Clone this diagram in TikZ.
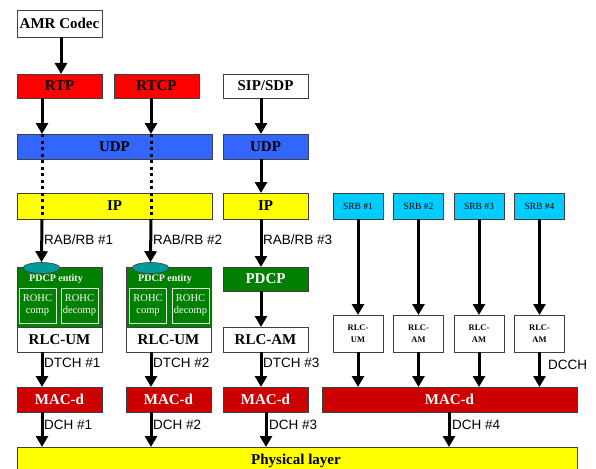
\documentclass[tikz,border=0pt]{standalone}
\usepackage{fontspec}
\setmainfont{Liberation Serif}
\newfontfamily\arialf{Liberation Sans}
\usetikzlibrary{arrows.meta,shapes.geometric}
\definecolor{rtpred}{HTML}{FF0000}
\definecolor{macred}{HTML}{CC0000}
\definecolor{udpblue}{HTML}{3366FF}
\definecolor{ipyellow}{HTML}{FFFF00}
\definecolor{pdgreen}{HTML}{007F00}
\definecolor{ovalteal}{HTML}{009999}
\definecolor{srbcyan}{HTML}{00CCFF}
\definecolor{edgegray}{HTML}{404040}
\tikzset{
  box/.style={draw=edgegray, line width=0.8pt, inner sep=0pt, outer sep=0pt, align=center},
  bigtxt/.style={font=\fontsize{15}{16}\selectfont\bfseries},
  lbl/.style={font=\arialf\fontsize{13.5}{15}\selectfont, inner sep=0pt, anchor=west},
  arr/.style={line width=3pt, -{Triangle[width=12pt,length=11pt]}},
  dots/.style={line width=3pt, dash pattern=on 3pt off 3.5pt},
  whitetxt/.style={text=white},
  smalltxt/.style={font=\fontsize{10.5}{12}\selectfont, text=white},
  tinybold/.style={font=\fontsize{8.5}{11.5}\selectfont\bfseries},
  srbtxt/.style={font=\fontsize{9.5}{11}\selectfont},
}
\begin{document}
\begin{tikzpicture}[x=1pt,y=-1pt]
\clip (0,0) rectangle (596,468);
\fill[white] (0,0) rectangle (596,468);
% column x references
\coordinate (c1) at (42,0);
\coordinate (c2) at (151,0);
\coordinate (c3) at (261,0);
\coordinate (c3b) at (266,0);
\coordinate (c0) at (61,0);
\coordinate (c4) at (449,0);
% top row
\node[box, bigtxt, fill=white, minimum width=85pt, minimum height=27pt] (amr) at (59.5,23.5) {AMR Codec};
\node[box, bigtxt, fill=rtpred, minimum width=85pt, minimum height=24pt] (rtp) at (59.5,86) {RTP};
\node[box, bigtxt, fill=rtpred, minimum width=85pt, minimum height=24pt] (rtcp) at (156.5,86) {RTCP};
\node[box, bigtxt, fill=white, minimum width=85pt, minimum height=24pt] (sip) at (265.5,86) {SIP/SDP};
\node[box, bigtxt, fill=udpblue, minimum width=195pt, minimum height=25pt] (udp1) at (114.5,146.5) {UDP};
\node[box, bigtxt, fill=udpblue, minimum width=85pt, minimum height=25pt] (udp2) at (265.5,146.5) {UDP};
\node[box, bigtxt, fill=ipyellow, minimum width=195pt, minimum height=26pt] (ip1) at (114.5,206) {IP};
\node[box, bigtxt, fill=ipyellow, minimum width=85pt, minimum height=26pt] (ip2) at (265.5,206) {IP};
% SRBs
\node[box, srbtxt, fill=srbcyan, minimum width=50pt, minimum height=26pt] (srb1) at (358,206) {SRB \#1};
\node[box, srbtxt, fill=srbcyan, minimum width=50pt, minimum height=26pt] (srb2) at (418.5,206) {SRB \#2};
\node[box, srbtxt, fill=srbcyan, minimum width=50pt, minimum height=26pt] (srb3) at (479,206) {SRB \#3};
\node[box, srbtxt, fill=srbcyan, minimum width=50pt, minimum height=26pt] (srb4) at (539.5,206) {SRB \#4};
% PDCP entities
\node[box, fill=pdgreen, minimum width=85pt, minimum height=60pt] (pe1) at (59.5,297) {};
\node[box, fill=pdgreen, minimum width=85pt, minimum height=60pt] (pe2) at (168.5,297) {};
\node[font=\fontsize{10}{11}\selectfont\bfseries, text=white, inner sep=0pt] (pt1) at (56,279) {PDCP entity};
\node[font=\fontsize{10}{11}\selectfont\bfseries, text=white, inner sep=0pt] (pt2) at (165,279) {PDCP entity};
\node[draw=white!85!pdgreen, line width=0.7pt, smalltxt, minimum width=37pt, minimum height=35pt, inner sep=0pt, align=center] (rc1) at (37.5,305.5) {ROHC\\comp};
\node[draw=white!85!pdgreen, line width=0.7pt, smalltxt, minimum width=37pt, minimum height=35pt, inner sep=0pt, align=center] (rd1) at (79.5,305.5) {ROHC\\decomp};
\node[draw=white!85!pdgreen, line width=0.7pt, smalltxt, minimum width=37pt, minimum height=35pt, inner sep=0pt, align=center] (rc2) at (148,305.5) {ROHC\\comp};
\node[draw=white!85!pdgreen, line width=0.7pt, smalltxt, minimum width=37pt, minimum height=35pt, inner sep=0pt, align=center] (rd2) at (190.5,305.5) {ROHC\\decomp};
\node[ellipse, draw=edgegray, line width=0.6pt, fill=ovalteal, minimum width=37pt, minimum height=11pt, inner sep=0pt] (el1) at (41.5,268) {};
\node[ellipse, draw=edgegray, line width=0.6pt, fill=ovalteal, minimum width=37pt, minimum height=11pt, inner sep=0pt] (el2) at (150.5,268) {};
\node[box, bigtxt, whitetxt, fill=pdgreen, minimum width=85pt, minimum height=24pt] (pdcp3) at (265.5,279) {PDCP};
% RLC
\node[box, bigtxt, fill=white, minimum width=85pt, minimum height=25pt] (rlc1) at (59.5,339.5) {RLC-UM};
\node[box, bigtxt, fill=white, minimum width=85pt, minimum height=25pt] (rlc2) at (168.5,339.5) {RLC-UM};
\node[box, bigtxt, fill=white, minimum width=85pt, minimum height=25pt] (rlc3) at (265.5,339.5) {RLC-AM};
\node[box, tinybold, fill=white, minimum width=50pt, minimum height=37pt] (rr1) at (358,333.5) {RLC-\\UM};
\node[box, tinybold, fill=white, minimum width=50pt, minimum height=37pt] (rr2) at (418.5,333.5) {RLC-\\AM};
\node[box, tinybold, fill=white, minimum width=50pt, minimum height=37pt] (rr3) at (479,333.5) {RLC-\\AM};
\node[box, tinybold, fill=white, minimum width=50pt, minimum height=37pt] (rr4) at (539.5,333.5) {RLC-\\AM};
% MAC
\node[box, bigtxt, whitetxt, fill=macred, minimum width=85pt, minimum height=25pt] (mac1) at (59.5,399.5) {MAC-d};
\node[box, bigtxt, whitetxt, fill=macred, minimum width=85pt, minimum height=25pt] (mac2) at (168.5,399.5) {MAC-d};
\node[box, bigtxt, whitetxt, fill=macred, minimum width=85pt, minimum height=25pt] (mac3) at (265.5,399.5) {MAC-d};
\node[box, bigtxt, whitetxt, fill=macred, minimum width=255pt, minimum height=25pt] (mac4) at (449.5,399.5) {MAC-d};
% physical
\node[box, fill=ipyellow, minimum width=560pt, minimum height=34pt] (phy) at (297,464) {};
\node[bigtxt, inner sep=0pt] (phyt) at (296,461) {Physical layer};
% arrows
\draw[arr] (amr.south -| c0) -- (rtp.north -| c0);
\draw[arr] (rtp.south -| c1) -- (udp1.north -| c1);
\draw[arr] (rtcp.south -| c2) -- (udp1.north -| c2);
\draw[arr] (sip.south -| c3) -- (udp2.north -| c3);
\draw[dots] (udp1.north -| c1) -- (ip1.south -| c1);
\draw[dots] (udp1.north -| c2) -- (ip1.south -| c2);
\draw[arr] (udp2.south -| c3) -- (ip2.north -| c3);
\draw[arr] (ip1.south -| c1) -- (el1.north);
\draw[arr] (ip1.south -| c2) -- (el2.north);
\draw[arr] (ip2.south -| c3) -- (pdcp3.north -| c3);
\draw[arr] (pdcp3.south -| c3) -- (rlc3.north -| c3);
\foreach \i in {1,2,3,4}{
  \draw[arr] (srb\i.south) -- (rr\i.north);
  \draw[arr] (rr\i.south) -- (rr\i.south |- mac4.north);
}
\draw[arr] (rlc1.south -| c1) -- (mac1.north -| c1);
\draw[arr] (rlc2.south -| c2) -- (mac2.north -| c2);
\draw[arr] (rlc3.south -| c3) -- (mac3.north -| c3);
\draw[arr] (mac1.south -| c1) -- (phy.north -| c1);
\draw[arr] (mac2.south -| c2) -- (phy.north -| c2);
\draw[arr] (mac3.south -| c3b) -- (phy.north -| c3b);
\draw[arr] (mac4.south -| c4) -- (phy.north -| c4);
% labels
\node[lbl] (l1) at (44,240) {RAB/RB \#1};
\node[lbl] (l2) at (153,240) {RAB/RB \#2};
\node[lbl] (l3) at (263,240) {RAB/RB \#3};
\node[lbl] (d1) at (44,363) {DTCH \#1};
\node[lbl] (d2) at (153,363) {DTCH \#2};
\node[lbl] (d3) at (263,363) {DTCH \#3};
\node[lbl] (dc) at (548,365) {DCCH};
\node[lbl] (h1) at (44,425) {DCH \#1};
\node[lbl] (h2) at (153,425) {DCH \#2};
\node[lbl] (h3) at (269,425) {DCH \#3};
\node[lbl] (h4) at (452,425) {DCH \#4};
\end{tikzpicture}
\end{document}
